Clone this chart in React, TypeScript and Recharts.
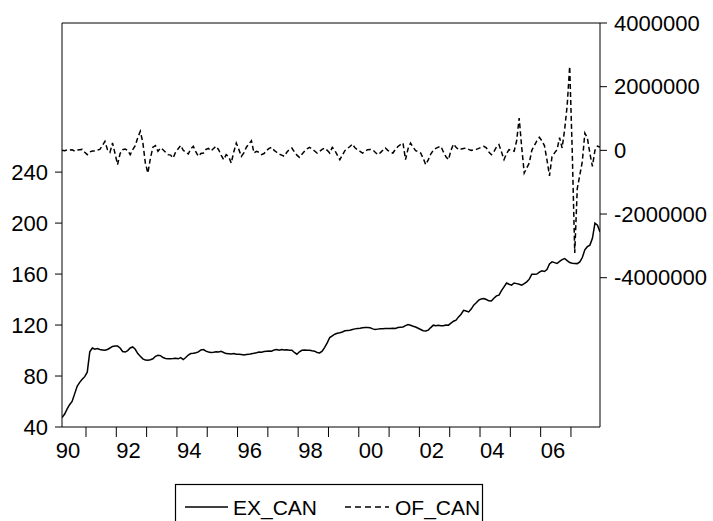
import React from 'react';
import { ComposedChart, Line, XAxis, YAxis, ReferenceLine } from 'recharts';

// monthly observations, 1990m3 .. 2007m12
const startYear = 1990;
const startMonth = 3;

const exCan1990 = [47.5, 50, 54, 57.5, 60, 66, 72, 75, 77.5, 79.5];
const exCan1991 = [83, 99, 102, 101, 101.5, 100.8, 100.5, 100.2, 100.8, 102, 103.2, 103.6];
const exCan1992 = [103.5, 102, 99.2, 98.8, 100, 102, 102.8, 101, 97.6, 95.5, 93.5, 92.5];
const exCan1993 = [92.4, 92.8, 93.5, 95.5, 96.3, 96, 94.5, 93.8, 93.5, 93.6, 93.7, 94];
const exCan1994 = [93.5, 94.5, 92.9, 94.5, 96.5, 97.6, 97.8, 98.2, 98.9, 100.5, 100.8, 99.5];
const exCan1995 = [98.9, 98.5, 98.7, 99, 98.8, 99.4, 98.5, 97.6, 97.5, 97.3, 97.6, 97.1];
const exCan1996 = [97, 96.8, 96.5, 96.8, 97, 97.5, 97.8, 98.3, 98.9, 98.7, 99.2, 99.5];
const exCan1997 = [99.7, 99.5, 100.5, 100.8, 100.3, 100.8, 100.5, 100.6, 100.3, 100.2, 98.5, 97.1];
const exCan1998 = [99, 100.2, 100.5, 100.2, 100.2, 99.8, 99.5, 98.5, 98.1, 99.5, 102.5, 106];
const exCan1999 = [110.2, 111.5, 112.8, 113.5, 114, 114.6, 115.5, 115.8, 116, 116.5, 117, 117.3];
const exCan2000 = [117.5, 117.8, 118, 118, 117.8, 117, 116.5, 116.8, 117, 117, 117.2, 117.3];
const exCan2001 = [117.3, 117.5, 117.3, 118, 118.3, 118.5, 119.5, 120.4, 119.8, 119, 118.5, 117.5];
const exCan2002 = [116.5, 115.5, 115.4, 116, 118, 119.9, 119.5, 119.8, 119.5, 119.5, 120, 119.9];
const exCan2003 = [121.5, 123, 123.8, 126.4, 128.5, 131.6, 131, 130.3, 132.5, 135.6, 137.5, 139.5];
const exCan2004 = [140.5, 140.8, 140, 139, 138.9, 141, 142.9, 143.4, 147, 150, 153, 152];
const exCan2005 = [151.3, 153, 152.5, 152, 151.3, 152.5, 153.9, 156, 159.9, 159.9, 160, 161.5];
const exCan2006 = [162.5, 162, 163.6, 168, 169.6, 169, 168.3, 170, 171.4, 172.2, 170.5, 169];
const exCan2007 = [168.5, 168.3, 168.2, 169.5, 173, 179, 181.5, 182.7, 188, 200, 198.4, 193];

const ofCan1990 = [0, -10000, 10000, 10000, 20000, -20000, 10000, 20000, 30000, -60000];
const ofCan1991 = [-135000, -50000, -20000, -20000, 10000, 30000, 150000, 283000, 20000, -63000, 230000, -100000];
const ofCan1992 = [-450000, -100000, 20000, 40000, 0, -135000, 20000, 150000, 400000, 597000, 250000, -400000];
const ofCan1993 = [-712000, -250000, 100000, 150000, -30000, 73000, 20000, -60000, -135000, -150000, -240000, -50000];
const ofCan1994 = [50000, 157000, 0, -60000, -115000, 50000, 126000, -50000, -188000, -100000, -85000, 30000];
const ofCan1995 = [60000, -20000, 60000, 126000, 20000, -150000, -293000, -135000, -200000, -400000, -50000, 230000];
const ofCan1996 = [30000, -188000, -80000, 100000, 200000, 304000, -85000, -30000, -60000, -135000, -100000, 0];
const ofCan1997 = [60000, 94000, 0, -60000, -120000, -150000, -188000, -60000, 30000, 73000, -50000, -150000];
const ofCan1998 = [-220000, -120000, -30000, 50000, 94000, 40000, -20000, -85000, -30000, 30000, 73000, 0];
const ofCan1999 = [-85000, 94000, 0, -150000, -293000, -150000, -10000, 60000, 120000, 198000, 80000, 20000];
const ofCan2000 = [-30000, -85000, -30000, 20000, 30000, 20000, -60000, -135000, -80000, 0, 73000, 0];
const ofCan2001 = [-60000, -85000, 30000, 120000, 180000, 230000, -293000, 50000, 230000, 100000, -10000, -40000];
const ofCan2002 = [-85000, -250000, -450000, -300000, -115000, 0, 60000, 100000, 126000, -50000, -200000, -293000];
const ofCan2003 = [0, 198000, 100000, 20000, 40000, 60000, 73000, 30000, 0, 20000, 30000, 60000];
const ofCan2004 = [100000, 126000, 80000, -50000, -135000, -40000, 100000, 180000, -50000, -293000, -100000, 20000];
const ofCan2005 = [0, -30000, 300000, 1014000, 100000, -712000, -550000, -400000, 0, 150000, 300000, 408000];
const ofCan2006 = [300000, 150000, -300000, -800000, -200000, -80000, 20000, 400000, 73000, 650000, 1400000, 2637000];
const ofCan2007 = [0, -3224000, -1200000, -780000, -350000, 540000, 390000, -100000, -500000, 0, 130000, 100000];

const exCan = [
  ...exCan1990, ...exCan1991, ...exCan1992, ...exCan1993, ...exCan1994, ...exCan1995,
  ...exCan1996, ...exCan1997, ...exCan1998, ...exCan1999, ...exCan2000, ...exCan2001,
  ...exCan2002, ...exCan2003, ...exCan2004, ...exCan2005, ...exCan2006, ...exCan2007,
];
const ofCan = [
  ...ofCan1990, ...ofCan1991, ...ofCan1992, ...ofCan1993, ...ofCan1994, ...ofCan1995,
  ...ofCan1996, ...ofCan1997, ...ofCan1998, ...ofCan1999, ...ofCan2000, ...ofCan2001,
  ...ofCan2002, ...ofCan2003, ...ofCan2004, ...ofCan2005, ...ofCan2006, ...ofCan2007,
];

const leftTicks = [40, 80, 120, 160, 200, 240];
const rightTicks = [4000000, 2000000, 0, -2000000, -4000000];
const yearTicks = [1991, 1992, 1993, 1994, 1995, 1996, 1997, 1998, 1999, 2000, 2001, 2002, 2003, 2004, 2005, 2006, 2007];
const labelYears = [1990, 1992, 1994, 1996, 1998, 2000, 2002, 2004, 2006];
const yearLabels = ['90', '92', '94', '96', '98', '00', '02', '04', '06'];

const data = exCan.map((v, i) => ({
  t: startYear + (startMonth - 1 + i + 0.5) / 12,
  ex: v,
  of: ofCan[i],
}));

const W = 713;
const H = 521;
const LEFT_W = 62;
const RIGHT_W = 113;
const FONT = '"Liberation Sans", Arial, sans-serif';
const tStart = data[0].t;
const tEnd = data[data.length - 1].t;
const yearPx = (W - LEFT_W - RIGHT_W) / (tEnd - tStart);

const YearTick = (props: any) => {
  const { x, y, payload } = props;
  const v = payload.value;
  const labels: React.ReactNode[] = [];
  const draw = (yr: number, px: number) => {
    const idx = labelYears.indexOf(yr);
    if (idx >= 0) {
      labels.push(
        <text key={yr} x={px} y={y + 31} textAnchor="start" fontSize={22} fontFamily={FONT} fill="#000">
          {yearLabels[idx]}
        </text>
      );
    }
  };
  draw(v, x);
  if (v === yearTicks[0]) draw(v - 1, x - yearPx);
  return (
    <g>
      <line x1={x} x2={x} y1={y} y2={y + 10} stroke="#000" strokeWidth={1} />
      {labels}
    </g>
  );
};

const tickStyle = { fontSize: 22, fontFamily: FONT, fill: '#000' };

export default function App() {
  return (
    <div style={{ position: 'absolute', left: 0, top: 0, width: W, height: H, background: '#fff', fontFamily: FONT }}>
      <ComposedChart width={W} height={H} data={data} margin={{ top: 23, right: 0, bottom: 64, left: 0 }}>
        <XAxis
          dataKey="t"
          type="number"
          domain={[tStart, tEnd]}
          allowDataOverflow
          ticks={yearTicks}
          interval={0}
          tick={<YearTick />}
          tickLine={false}
          tickSize={0}
          tickMargin={0}
          height={30}
          axisLine={{ stroke: '#000', strokeWidth: 1 }}
        />
        <YAxis
          yAxisId="left"
          orientation="left"
          width={LEFT_W}
          domain={[40, 357]}
          allowDataOverflow
          ticks={leftTicks}
          interval={0}
          tickSize={7}
          tickMargin={7}
          tick={tickStyle}
          axisLine={{ stroke: '#000', strokeWidth: 1 }}
          tickLine={{ stroke: '#000', strokeWidth: 1 }}
        />
        <YAxis
          yAxisId="right"
          orientation="right"
          width={RIGHT_W}
          domain={[-8690000, 4000000]}
          allowDataOverflow
          ticks={rightTicks}
          interval={0}
          tickSize={7}
          tickMargin={7}
          tick={tickStyle}
          axisLine={{ stroke: '#000', strokeWidth: 1 }}
          tickLine={{ stroke: '#000', strokeWidth: 1 }}
        />
        <ReferenceLine yAxisId="left" y={357} stroke="#000" strokeWidth={1} />
        <Line
          yAxisId="left"
          dataKey="ex"
          type="linear"
          stroke="#000"
          strokeWidth={1.5}
          dot={false}
          isAnimationActive={false}
        />
        <Line
          yAxisId="right"
          dataKey="of"
          type="linear"
          stroke="#000"
          strokeWidth={1.5}
          strokeDasharray="5 3"
          dot={false}
          isAnimationActive={false}
        />
      </ComposedChart>
      <svg width={W} height={H} style={{ position: 'absolute', left: 0, top: 0, pointerEvents: 'none' }}>
        <rect x={175.5} y={484.5} width={307} height={60} fill="#fff" stroke="#000" strokeWidth={1.2} />
        <line x1={185} x2={228} y1={507} y2={507} stroke="#000" strokeWidth={1.5} />
        <text x={233} y={514.5} fontSize={21} fontFamily={FONT} fill="#000">EX_CAN</text>
        <line x1={345} x2={389} y1={507} y2={507} stroke="#000" strokeWidth={1.5} strokeDasharray="6 4" />
        <text x={395} y={514.5} fontSize={21} fontFamily={FONT} fill="#000">OF_CAN</text>
      </svg>
    </div>
  );
}
